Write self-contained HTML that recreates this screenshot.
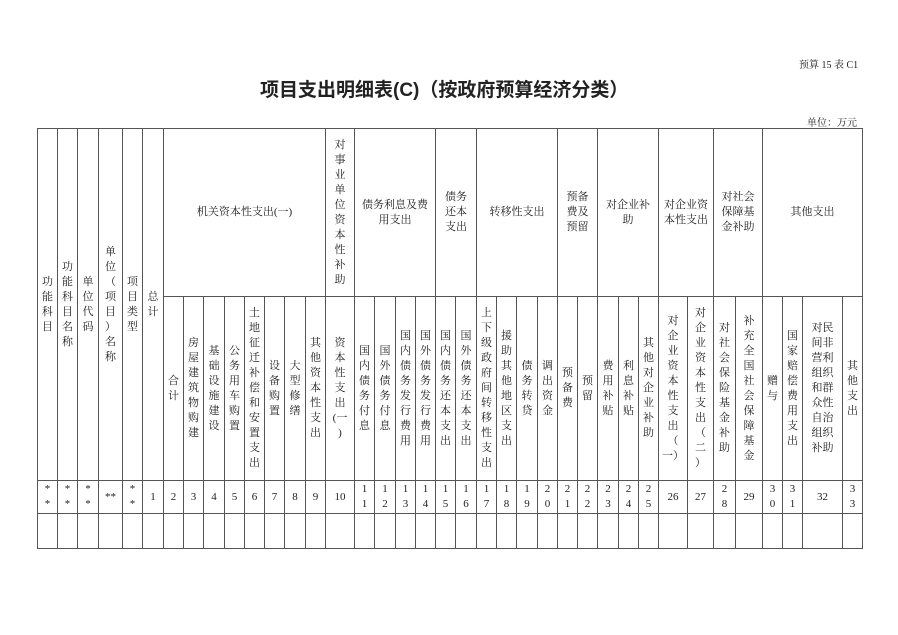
<!DOCTYPE html>
<html><head><meta charset="utf-8">
<style>
html,body{margin:0;padding:0;background:#fff;}
body{width:898px;height:635px;position:relative;overflow:hidden;font-family:"Liberation Serif","Noto Serif CJK SC",serif;color:#222;}
.c{position:absolute;box-sizing:border-box;border:1px solid #555;display:flex;align-items:center;justify-content:center;text-align:center;font-size:11px;line-height:15px;}
.t{position:absolute;white-space:nowrap;}
</style></head><body>
<div class="t" style="left:799px;top:56px;font-size:10px;">预算 15 表 C1</div>
<div class="t" style="left:260px;top:75px;font-size:19px;font-weight:bold;font-family:'Liberation Sans','Noto Sans CJK SC',sans-serif;">项目支出明细表(C)（按政府预算经济分类）</div>
<div class="t" style="left:807px;top:114px;font-size:10px;">单位：万元</div>

<div class="c" style="left:37px;top:128px;width:21px;height:353px;">功<br>能<br>科<br>目</div>
<div class="c" style="left:57px;top:128px;width:21px;height:353px;">功<br>能<br>科<br>目<br>名<br>称</div>
<div class="c" style="left:77px;top:128px;width:22px;height:353px;">单<br>位<br>代<br>码</div>
<div class="c" style="left:98px;top:128px;width:25px;height:353px;">单<br>位<br>（<br>项<br>目<br>）<br>名<br>称</div>
<div class="c" style="left:122px;top:128px;width:21px;height:353px;">项<br>目<br>类<br>型</div>
<div class="c" style="left:142px;top:128px;width:22px;height:353px;">总<br>计</div>

<div class="c" style="left:163px;top:128px;width:163px;height:169px;">机关资本性支出(一)</div>
<div class="c" style="left:325px;top:128px;width:30px;height:169px;">对<br>事<br>业<br>单<br>位<br>资<br>本<br>性<br>补<br>助</div>
<div class="c" style="left:354px;top:128px;width:82px;height:169px;">债务利息及费<br>用支出</div>
<div class="c" style="left:435px;top:128px;width:42px;height:169px;">债务<br>还本<br>支出</div>
<div class="c" style="left:476px;top:128px;width:82px;height:169px;">转移性支出</div>
<div class="c" style="left:557px;top:128px;width:41px;height:169px;">预备<br>费及<br>预留</div>
<div class="c" style="left:597px;top:128px;width:62px;height:169px;">对企业补<br>助</div>
<div class="c" style="left:658px;top:128px;width:56px;height:169px;">对企业资<br>本性支出</div>
<div class="c" style="left:713px;top:128px;width:50px;height:169px;">对社会<br>保障基<br>金补助</div>
<div class="c" style="left:762px;top:128px;width:101px;height:169px;">其他支出</div>

<div class="c" style="left:163px;top:296px;width:21px;height:185px;">合<br>计</div>
<div class="c" style="left:183px;top:296px;width:21px;height:185px;">房<br>屋<br>建<br>筑<br>物<br>购<br>建</div>
<div class="c" style="left:203px;top:296px;width:22px;height:185px;">基<br>础<br>设<br>施<br>建<br>设</div>
<div class="c" style="left:224px;top:296px;width:21px;height:185px;">公<br>务<br>用<br>车<br>购<br>置</div>
<div class="c" style="left:244px;top:296px;width:21px;height:185px;">土<br>地<br>征<br>迁<br>补<br>偿<br>和<br>安<br>置<br>支<br>出</div>
<div class="c" style="left:264px;top:296px;width:21px;height:185px;">设<br>备<br>购<br>置</div>
<div class="c" style="left:284px;top:296px;width:22px;height:185px;">大<br>型<br>修<br>缮</div>
<div class="c" style="left:305px;top:296px;width:21px;height:185px;">其<br>他<br>资<br>本<br>性<br>支<br>出</div>
<div class="c" style="left:325px;top:296px;width:30px;height:185px;">资<br>本<br>性<br>支<br>出<br>(一<br>)</div>
<div class="c" style="left:354px;top:296px;width:21px;height:185px;">国<br>内<br>债<br>务<br>付<br>息</div>
<div class="c" style="left:374px;top:296px;width:22px;height:185px;">国<br>外<br>债<br>务<br>付<br>息</div>
<div class="c" style="left:395px;top:296px;width:21px;height:185px;">国<br>内<br>债<br>务<br>发<br>行<br>费<br>用</div>
<div class="c" style="left:415px;top:296px;width:21px;height:185px;">国<br>外<br>债<br>务<br>发<br>行<br>费<br>用</div>
<div class="c" style="left:435px;top:296px;width:21px;height:185px;">国<br>内<br>债<br>务<br>还<br>本<br>支<br>出</div>
<div class="c" style="left:455px;top:296px;width:22px;height:185px;">国<br>外<br>债<br>务<br>还<br>本<br>支<br>出</div>
<div class="c" style="left:476px;top:296px;width:21px;height:185px;">上<br>下<br>级<br>政<br>府<br>间<br>转<br>移<br>性<br>支<br>出</div>
<div class="c" style="left:496px;top:296px;width:21px;height:185px;">援<br>助<br>其<br>他<br>地<br>区<br>支<br>出</div>
<div class="c" style="left:516px;top:296px;width:22px;height:185px;">债<br>务<br>转<br>贷</div>
<div class="c" style="left:537px;top:296px;width:21px;height:185px;">调<br>出<br>资<br>金</div>
<div class="c" style="left:557px;top:296px;width:21px;height:185px;">预<br>备<br>费</div>
<div class="c" style="left:577px;top:296px;width:21px;height:185px;">预<br>留</div>
<div class="c" style="left:597px;top:296px;width:22px;height:185px;">费<br>用<br>补<br>贴</div>
<div class="c" style="left:618px;top:296px;width:21px;height:185px;">利<br>息<br>补<br>贴</div>
<div class="c" style="left:638px;top:296px;width:21px;height:185px;">其<br>他<br>对<br>企<br>业<br>补<br>助</div>
<div class="c" style="left:658px;top:296px;width:30px;height:185px;">对<br>企<br>业<br>资<br>本<br>性<br>支<br>出<br>（<br>一）</div>
<div class="c" style="left:687px;top:296px;width:27px;height:185px;">对<br>企<br>业<br>资<br>本<br>性<br>支<br>出<br>（<br>二<br>）</div>
<div class="c" style="left:713px;top:296px;width:23px;height:185px;">对<br>社<br>会<br>保<br>险<br>基<br>金<br>补<br>助</div>
<div class="c" style="left:735px;top:296px;width:28px;height:185px;">补<br>充<br>全<br>国<br>社<br>会<br>保<br>障<br>基<br>金</div>
<div class="c" style="left:762px;top:296px;width:21px;height:185px;">赠<br>与</div>
<div class="c" style="left:782px;top:296px;width:21px;height:185px;">国<br>家<br>赔<br>偿<br>费<br>用<br>支<br>出</div>
<div class="c" style="left:802px;top:296px;width:41px;height:185px;">对民<br>间非<br>营利<br>组织<br>和群<br>众性<br>自治<br>组织<br>补助</div>
<div class="c" style="left:842px;top:296px;width:21px;height:185px;">其<br>他<br>支<br>出</div>

<div class="c" style="left:37px;top:480px;width:21px;height:34px;">*<br>*</div>
<div class="c" style="left:57px;top:480px;width:21px;height:34px;">*<br>*</div>
<div class="c" style="left:77px;top:480px;width:22px;height:34px;">*<br>*</div>
<div class="c" style="left:98px;top:480px;width:25px;height:34px;">**</div>
<div class="c" style="left:122px;top:480px;width:21px;height:34px;">*<br>*</div>
<div class="c" style="left:142px;top:480px;width:22px;height:34px;">1</div>
<div class="c" style="left:163px;top:480px;width:21px;height:34px;">2</div>
<div class="c" style="left:183px;top:480px;width:21px;height:34px;">3</div>
<div class="c" style="left:203px;top:480px;width:22px;height:34px;">4</div>
<div class="c" style="left:224px;top:480px;width:21px;height:34px;">5</div>
<div class="c" style="left:244px;top:480px;width:21px;height:34px;">6</div>
<div class="c" style="left:264px;top:480px;width:21px;height:34px;">7</div>
<div class="c" style="left:284px;top:480px;width:22px;height:34px;">8</div>
<div class="c" style="left:305px;top:480px;width:21px;height:34px;">9</div>
<div class="c" style="left:325px;top:480px;width:30px;height:34px;">10</div>
<div class="c" style="left:354px;top:480px;width:21px;height:34px;">1<br>1</div>
<div class="c" style="left:374px;top:480px;width:22px;height:34px;">1<br>2</div>
<div class="c" style="left:395px;top:480px;width:21px;height:34px;">1<br>3</div>
<div class="c" style="left:415px;top:480px;width:21px;height:34px;">1<br>4</div>
<div class="c" style="left:435px;top:480px;width:21px;height:34px;">1<br>5</div>
<div class="c" style="left:455px;top:480px;width:22px;height:34px;">1<br>6</div>
<div class="c" style="left:476px;top:480px;width:21px;height:34px;">1<br>7</div>
<div class="c" style="left:496px;top:480px;width:21px;height:34px;">1<br>8</div>
<div class="c" style="left:516px;top:480px;width:22px;height:34px;">1<br>9</div>
<div class="c" style="left:537px;top:480px;width:21px;height:34px;">2<br>0</div>
<div class="c" style="left:557px;top:480px;width:21px;height:34px;">2<br>1</div>
<div class="c" style="left:577px;top:480px;width:21px;height:34px;">2<br>2</div>
<div class="c" style="left:597px;top:480px;width:22px;height:34px;">2<br>3</div>
<div class="c" style="left:618px;top:480px;width:21px;height:34px;">2<br>4</div>
<div class="c" style="left:638px;top:480px;width:21px;height:34px;">2<br>5</div>
<div class="c" style="left:658px;top:480px;width:30px;height:34px;">26</div>
<div class="c" style="left:687px;top:480px;width:27px;height:34px;">27</div>
<div class="c" style="left:713px;top:480px;width:23px;height:34px;">2<br>8</div>
<div class="c" style="left:735px;top:480px;width:28px;height:34px;">29</div>
<div class="c" style="left:762px;top:480px;width:21px;height:34px;">3<br>0</div>
<div class="c" style="left:782px;top:480px;width:21px;height:34px;">3<br>1</div>
<div class="c" style="left:802px;top:480px;width:41px;height:34px;">32</div>
<div class="c" style="left:842px;top:480px;width:21px;height:34px;">3<br>3</div>

<div class="c" style="left:37px;top:513px;width:21px;height:36px;"></div>
<div class="c" style="left:57px;top:513px;width:21px;height:36px;"></div>
<div class="c" style="left:77px;top:513px;width:22px;height:36px;"></div>
<div class="c" style="left:98px;top:513px;width:25px;height:36px;"></div>
<div class="c" style="left:122px;top:513px;width:21px;height:36px;"></div>
<div class="c" style="left:142px;top:513px;width:22px;height:36px;"></div>
<div class="c" style="left:163px;top:513px;width:21px;height:36px;"></div>
<div class="c" style="left:183px;top:513px;width:21px;height:36px;"></div>
<div class="c" style="left:203px;top:513px;width:22px;height:36px;"></div>
<div class="c" style="left:224px;top:513px;width:21px;height:36px;"></div>
<div class="c" style="left:244px;top:513px;width:21px;height:36px;"></div>
<div class="c" style="left:264px;top:513px;width:21px;height:36px;"></div>
<div class="c" style="left:284px;top:513px;width:22px;height:36px;"></div>
<div class="c" style="left:305px;top:513px;width:21px;height:36px;"></div>
<div class="c" style="left:325px;top:513px;width:30px;height:36px;"></div>
<div class="c" style="left:354px;top:513px;width:21px;height:36px;"></div>
<div class="c" style="left:374px;top:513px;width:22px;height:36px;"></div>
<div class="c" style="left:395px;top:513px;width:21px;height:36px;"></div>
<div class="c" style="left:415px;top:513px;width:21px;height:36px;"></div>
<div class="c" style="left:435px;top:513px;width:21px;height:36px;"></div>
<div class="c" style="left:455px;top:513px;width:22px;height:36px;"></div>
<div class="c" style="left:476px;top:513px;width:21px;height:36px;"></div>
<div class="c" style="left:496px;top:513px;width:21px;height:36px;"></div>
<div class="c" style="left:516px;top:513px;width:22px;height:36px;"></div>
<div class="c" style="left:537px;top:513px;width:21px;height:36px;"></div>
<div class="c" style="left:557px;top:513px;width:21px;height:36px;"></div>
<div class="c" style="left:577px;top:513px;width:21px;height:36px;"></div>
<div class="c" style="left:597px;top:513px;width:22px;height:36px;"></div>
<div class="c" style="left:618px;top:513px;width:21px;height:36px;"></div>
<div class="c" style="left:638px;top:513px;width:21px;height:36px;"></div>
<div class="c" style="left:658px;top:513px;width:30px;height:36px;"></div>
<div class="c" style="left:687px;top:513px;width:27px;height:36px;"></div>
<div class="c" style="left:713px;top:513px;width:23px;height:36px;"></div>
<div class="c" style="left:735px;top:513px;width:28px;height:36px;"></div>
<div class="c" style="left:762px;top:513px;width:21px;height:36px;"></div>
<div class="c" style="left:782px;top:513px;width:21px;height:36px;"></div>
<div class="c" style="left:802px;top:513px;width:41px;height:36px;"></div>
<div class="c" style="left:842px;top:513px;width:21px;height:36px;"></div>
</body></html>
